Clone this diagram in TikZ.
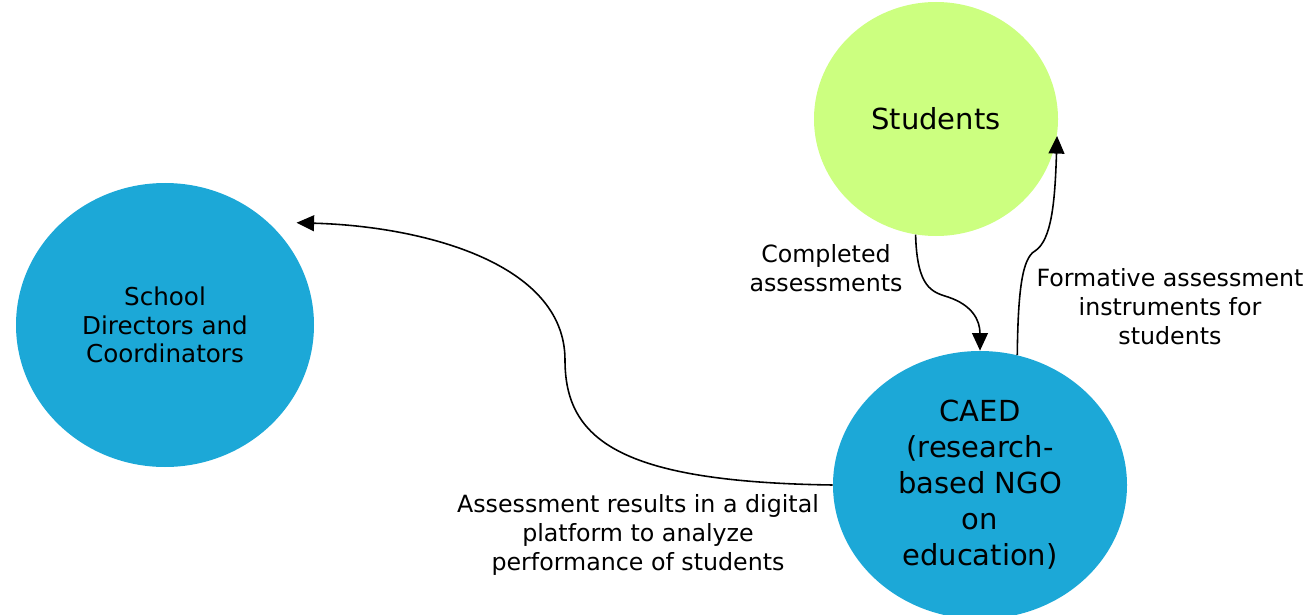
\documentclass[tikz,border=0pt]{standalone}
\usepackage{fontspec}
\setmainfont{DejaVu Sans}
\usetikzlibrary{shapes.geometric,arrows.meta,calc}
\definecolor{caedblue}{HTML}{1CA8D7}
\definecolor{studgreen}{HTML}{CCFF80}
\tikzset{
	blob/.style={ellipse,inner sep=0pt,align=center},
	arr/.style={-{Triangle[length=10pt,width=9pt]},line width=0.9pt},
	lbl/.style={align=center,font=\fontsize{13.5}{16.5}\selectfont}
}
\begin{document}
			\begin{tikzpicture}[x=0.02cm,y=-0.02cm]
				\useasboundingbox (0,0) rectangle (1309,615);
				\node[blob,fill=studgreen,minimum width=244*0.02cm,minimum height=234*0.02cm,font=\fontsize{16.5}{18}\selectfont] (stud) at (936,119) {Students};
				\node[blob,fill=caedblue,minimum width=294*0.02cm,minimum height=268*0.02cm,font=\fontsize{16.5}{20.5}\selectfont] (caed) at (980,485) {CAED\\(research-\\based NGO\\on\\education)};
				\node[blob,fill=caedblue,minimum width=298*0.02cm,minimum height=284*0.02cm,font=\fontsize{14}{16.2}\selectfont] (dirs) at (165,325) {School\\Directors and\\Coordinators};
				\node[lbl] (completed) at (826,268) {Completed\\assessments};
				\node[lbl] (formative) at (1170,307) {Formative assessment\\instruments for\\students};
				\node[lbl] (results) at (638,535) {Assessment results in a digital\\platform to analyze\\performance of students};
				\draw[arr] (caed.west) .. controls (620,482) and (565,440) .. (565,360) .. controls (565,262) and (420,226) .. ($(dirs.38)+(16,-12)$);
				\draw[arr] (stud.260) .. controls (917,288) and (932,292) .. (948,297) .. controls (972,305) and (980,320) .. (caed.north);
				\draw[arr] (caed.74) .. controls (1018,292) and (1022,258) .. (1035,251) .. controls (1052,240) and (1055,200) .. (stud.352);
			\end{tikzpicture}
\end{document}
